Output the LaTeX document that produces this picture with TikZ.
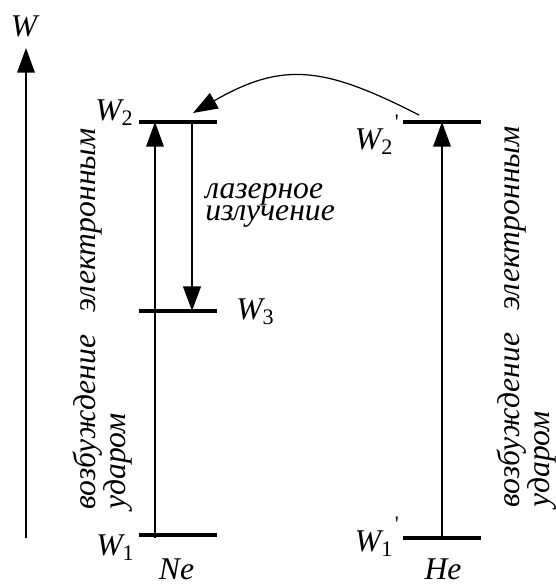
\documentclass[tikz,border=0pt]{standalone}
\usepackage{fontspec}
\setmainfont{Liberation Serif}
\usetikzlibrary{arrows.meta,positioning}

\newcommand{\lev}[1]{\textit{W}\textsubscript{\upshape #1}}
\newcommand{\levp}[1]{\textit{W}\textsubscript{\upshape #1}\kern0.05em\raisebox{0.3em}{\textsuperscript{\upshape\textquotesingle}}}

\begin{document}
\begin{tikzpicture}[
    lvl/.style={line width=2pt},
    pump/.style={line width=0.8pt, -{Triangle[length=14pt, width=10pt]}},
    laser/.style={line width=1.4pt, -{Triangle[length=14pt, width=10pt]}},
    lbl/.style={inner sep=0pt, font=\fontsize{18}{20}\selectfont\itshape},
    rot/.style={lbl, rotate=90, anchor=south west, align=left,
      font=\fontsize{18}{17}\selectfont\itshape}
  ]
  \useasboundingbox (0,0) rectangle (11.1,11.7);
  % energy axis
  \coordinate (ax0) at (0.52,0.94);
  \coordinate (ax1) at (0.52,10.74);
  \node[lbl] (axW) at (0.48,11.18) {W};
  \draw[pump] (ax0) -- (ax1);

  % Ne levels
  \coordinate (ne2l) at (2.78,9.26); \coordinate (ne2r) at (4.34,9.26);
  \coordinate (ne3l) at (2.78,5.48); \coordinate (ne3r) at (4.34,5.48);
  \coordinate (ne1l) at (2.78,1.00); \coordinate (ne1r) at (4.34,1.00);
  \coordinate (nepb) at (3.10,0.94); \coordinate (nept) at (3.10,9.26);
  \coordinate (nelt) at (3.84,9.26); \coordinate (nelb) at (3.84,5.48);
  \draw[pump] (nepb) -- (nept);
  \draw[laser] (nelt) -- (nelb);
  \draw[lvl] (ne2l) -- (ne2r);
  \draw[lvl] (ne3l) -- (ne3r);
  \draw[lvl] (ne1l) -- (ne1r);
  \node[lbl, anchor=base east] (lw2) at (2.68,9.28) {\lev{2}};
  \node[lbl, anchor=base west] (lw3) at (4.72,5.30) {\lev{3}};
  \node[lbl, anchor=base east] (lw1) at (2.70,0.58) {\lev{1}};
  \node[lbl, anchor=base] (ne) at (3.53,0.12) {Ne};
  \node[lbl, anchor=west, align=left, font=\fontsize{18}{12.5}\selectfont\itshape]
    (las) at (4.10,7.60) {лазерное\\излучение};
  \node[rot] (neexc) at (2.66,1.50) {возбуждение\hspace{0.7em}электронным\\ударом};

  % He levels
  \coordinate (he2l) at (8.06,9.26); \coordinate (he2r) at (9.62,9.26);
  \coordinate (he1l) at (8.06,0.94); \coordinate (he1r) at (9.62,0.94);
  \coordinate (hepb) at (8.84,0.94); \coordinate (hept) at (8.84,9.26);
  \draw[pump] (hepb) -- (hept);
  \draw[lvl] (he2l) -- (he2r);
  \draw[lvl] (he1l) -- (he1r);
  \node[lbl, anchor=base east] (lh2) at (8.00,8.70) {\levp{2}};
  \node[lbl, anchor=base east] (lh1) at (8.00,0.66) {\levp{1}};
  \node[lbl, anchor=base] (he) at (8.86,0.10) {He};
  \node[rot] (heexc) at (11.13,1.54) {возбуждение\hspace{0.7em}электронным\\ударом};

  % energy transfer He -> Ne
  \coordinate (trs) at (8.38,9.40);
  \coordinate (tre) at (3.86,9.44);
  \draw[line width=0.7pt, -{Triangle[length=14pt, width=10pt]}]
    (trs) .. controls +(153:2.1) and +(30:2.1) .. (tre);
\end{tikzpicture}
\end{document}
